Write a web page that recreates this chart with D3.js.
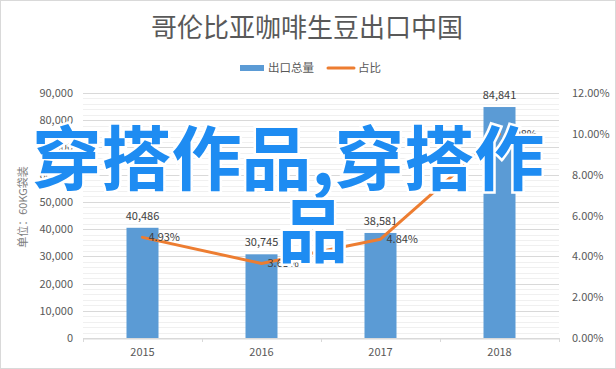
<!DOCTYPE html>
<html>
<head>
<meta charset="utf-8">
<script src="https://cdn.jsdelivr.net/npm/d3@7"></script>
<style>
  body { margin: 0; background: #fff; }
  text { font-family: "Noto Sans CJK SC", "Noto Sans", sans-serif; }
</style>
</head>
<body>
<div id="chart"></div>
<script>
// dati
const years = ['2015', '2016', '2017', '2018'];
const exportTotals = [40486, 30745, 38581, 84841];
const shares = [4.93, 3.65, 4.84, 9.98];
const leftTicks = [0, 10000, 20000, 30000, 40000, 50000, 60000, 70000, 80000, 90000];
const rightTicks = [0, 2, 4, 6, 8, 10, 12];

const W = 616, H = 369;
const margin = { top: 93, right: 57, bottom: 31, left: 83 };
const width = W - margin.left - margin.right,
    height = H - margin.top - margin.bottom;

const svg = d3.select('#chart').append('svg')
    .attr('width', W)
    .attr('height', H);

// cornice
svg.append('rect')
    .attr('x', 0.5).attr('y', 0.5)
    .attr('width', W - 1).attr('height', H - 1)
    .attr('fill', '#fff')
    .attr('stroke', '#d9d9d9');

// titolo
svg.append('text')
    .attr('x', 307).attr('y', 37)
    .attr('text-anchor', 'middle')
    .attr('font-size', 26)
    .attr('fill', '#595959')
    .text('哥伦比亚咖啡生豆出口中国');

// legenda
const leg = svg.append('g').attr('transform', 'translate(240,68)');
leg.append('rect').attr('x', 0).attr('y', -3).attr('width', 24).attr('height', 6).attr('fill', '#5b9bd5');
leg.append('text').attr('x', 28).attr('y', 4).attr('font-size', 11.5).attr('fill', '#595959').text('出口总量');
leg.append('line').attr('x1', 88).attr('x2', 114).attr('y1', 0).attr('y2', 0)
    .attr('stroke', '#ed7d31').attr('stroke-width', 3).attr('stroke-linecap', 'round');
leg.append('text').attr('x', 118).attr('y', 4).attr('font-size', 11.5).attr('fill', '#595959').text('占比');

const g = svg.append('g').attr('transform', `translate(${margin.left},${margin.top})`);

// scale
const x = d3.scaleBand().domain(years).range([0, width]).padding(0);
const y = d3.scaleLinear().domain([0, 90000]).range([height, 0]);
const y2 = d3.scaleLinear().domain([0, 12]).range([height, 0]);

// griglia minore
g.append('g')
    .selectAll('line')
    .data(d3.range(0, 90001, 2000).filter(d => d % 10000 !== 0))
    .join('line')
    .attr('x1', 0).attr('x2', width)
    .attr('y1', d => Math.round(y(d)) + 0.5).attr('y2', d => Math.round(y(d)) + 0.5)
    .attr('stroke', '#f0f0f0');

// griglia principale
g.append('g')
    .selectAll('line')
    .data(leftTicks)
    .join('line')
    .attr('x1', 0).attr('x2', width)
    .attr('y1', d => Math.round(y(d)) + 0.5).attr('y2', d => Math.round(y(d)) + 0.5)
    .attr('stroke', '#d9d9d9');

// asse x
const xAxis = g.append('g')
    .attr('transform', `translate(0,${Math.round(height) + 0.5})`)
    .call(d3.axisBottom(x).tickSize(0).tickPadding(10));
xAxis.select('.domain').attr('stroke', '#d9d9d9');
xAxis.selectAll('text').attr('font-size', 11).attr('fill', '#595959')
    .style('font-family', '"Noto Sans CJK SC", sans-serif');
// tacche ai bordi delle categorie
g.append('g')
    .selectAll('line')
    .data(d3.range(0, years.length + 1))
    .join('line')
    .attr('x1', d => Math.round(d * x.step()) + 0.5).attr('x2', d => Math.round(d * x.step()) + 0.5)
    .attr('y1', height).attr('y2', height + 4)
    .attr('stroke', '#d9d9d9');

// asse sinistro
const yAxis = g.append('g')
    .call(d3.axisLeft(y).tickValues(leftTicks).tickSize(0).tickPadding(10).tickFormat(d3.format(',')));
yAxis.select('.domain').remove();
yAxis.selectAll('text').attr('font-size', 11).attr('fill', '#595959')
    .style('font-family', '"Noto Sans CJK SC", sans-serif');

// asse destro
const y2Axis = g.append('g')
    .attr('transform', `translate(${width},0)`)
    .call(d3.axisRight(y2).tickValues(rightTicks).tickSize(0).tickPadding(13).tickFormat(d => d.toFixed(2) + '%'));
y2Axis.select('.domain').remove();
y2Axis.selectAll('text').attr('font-size', 11).attr('fill', '#595959')
    .style('font-family', '"Noto Sans CJK SC", sans-serif');

// titolo asse y
svg.append('text')
    .attr('transform', 'translate(27,207) rotate(-90)')
    .attr('text-anchor', 'middle')
    .attr('font-size', 11)
    .attr('fill', '#7f7f7f')
    .text('单位：60KG袋装');

// barre
const barW = 32;
g.append('g')
    .selectAll('rect')
    .data(years)
    .join('rect')
    .attr('x', d => x(d) + x.bandwidth() / 2 - barW / 2)
    .attr('y', (d, i) => y(exportTotals[i]))
    .attr('width', barW)
    .attr('height', (d, i) => height - y(exportTotals[i]))
    .attr('fill', '#5b9bd5');

// etichette barre
g.append('g')
    .selectAll('text')
    .data(years)
    .join('text')
    .attr('x', d => x(d) + x.bandwidth() / 2)
    .attr('y', (d, i) => y(exportTotals[i]) - 8)
    .attr('text-anchor', 'middle')
    .attr('font-size', 11)
    .attr('fill', '#404040')
    .text((d, i) => d3.format(',')(exportTotals[i]));

// linea percentuale
const line = d3.line()
    .x((d, i) => x(years[i]) + x.bandwidth() / 2)
    .y(d => y2(d));
g.append('path')
    .datum(shares)
    .attr('d', line)
    .attr('fill', 'none')
    .attr('stroke', '#ed7d31')
    .attr('stroke-width', 3)
    .attr('stroke-linejoin', 'round')
    .attr('stroke-linecap', 'round');

// etichette percentuale
g.append('g')
    .selectAll('text')
    .data(shares)
    .join('text')
    .attr('x', (d, i) => x(years[i]) + x.bandwidth() / 2 + 6)
    .attr('y', d => y2(d) + 4)
    .attr('font-size', 11)
    .attr('fill', '#404040')
    .text(d => d.toFixed(2) + '%');

// filigrana
const wm = svg.append('g')
    .attr('font-size', 70)
    .attr('font-weight', 'bold')
    .attr('fill', '#1e8cf2')
    .attr('stroke', '#fff')
    .attr('stroke-width', 5)
    .attr('paint-order', 'stroke')
    .attr('text-anchor', 'middle');
wm.append('text')
    .attr('x', 288).attr('y', 185)
    .text('穿搭作品,穿搭作');
wm.append('text')
    .attr('x', 313).attr('y', 257)
    .text('品');
</script>
</body>
</html>
